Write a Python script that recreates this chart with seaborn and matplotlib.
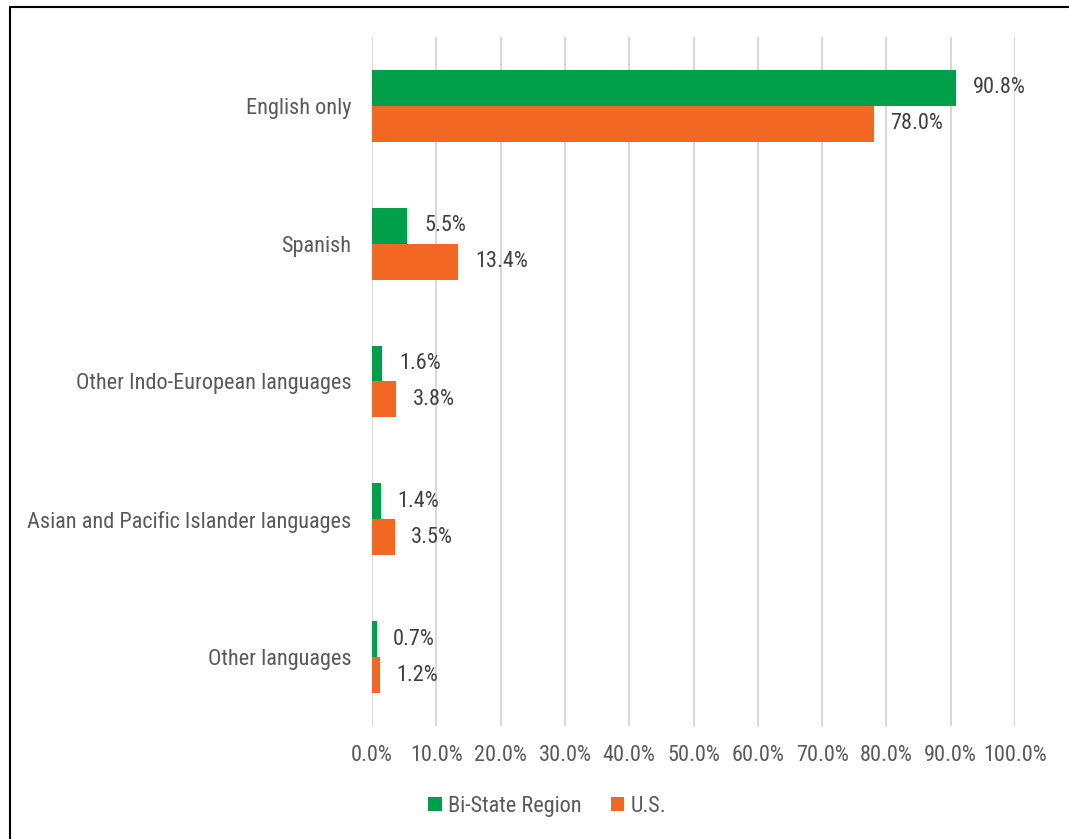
import matplotlib
matplotlib.use("Agg")
import matplotlib.pyplot as plt
from matplotlib import font_manager
from matplotlib.lines import Line2D
from matplotlib.patches import Patch
import seaborn as sns
import pandas as pd

categories = [
    "English only",
    "Spanish",
    "Other Indo-European languages",
    "Asian and Pacific Islander languages",
    "Other languages",
]
series_names = ["Bi-State Region", "U.S."]
bistate_values = [90.8, 5.5, 1.6, 1.4, 0.7]
us_values = [78.0, 13.4, 3.8, 3.5, 1.2]
x_ticks = [0, 10, 20, 30, 40, 50, 60, 70, 80, 90, 100]

colors = {"Bi-State Region": "#00A04A", "U.S.": "#F26722"}

sns.set_theme(style="white")
installed = {f.name for f in font_manager.fontManager.ttflist}
family = next((f for f in ["Roboto Condensed", "Archivo Narrow", "Liberation Sans"] if f in installed),
              "DejaVu Sans")
plt.rcParams["font.family"] = [family, "DejaVu Sans"]

FS = 16

df = pd.DataFrame({
    "Language": categories * 2,
    "Series": [series_names[0]] * len(categories) + [series_names[1]] * len(categories),
    "Percent": bistate_values + us_values,
})

fig = plt.figure(figsize=(10.69, 8.39), dpi=100)
ax = fig.add_axes([0.348, 0.1347, 0.6015, 0.8212])

sns.barplot(
    data=df, y="Language", x="Percent", hue="Series", orient="h",
    order=categories, hue_order=series_names, palette=colors,
    width=0.52, gap=0, linewidth=0, saturation=1, legend=False, ax=ax,
    errorbar=None,
)

ax.set_xlim(0, 100)
ax.set_ylim(len(categories) - 0.5, -0.5)
ax.set_xticks(x_ticks)
ax.set_xticklabels([f"{t:.1f}%" for t in x_ticks])
ax.grid(axis="x", color="#d9d9d9", linewidth=1.5)
ax.grid(axis="y", visible=False)
ax.set_axisbelow(True)
for s in ax.spines.values():
    s.set_visible(False)
ax.tick_params(axis="x", length=0, pad=14, labelsize=FS, labelcolor="#595959")
ax.tick_params(axis="y", length=0, pad=15, labelsize=FS, labelcolor="#595959")
ax.set_xlabel("")
ax.set_ylabel("")

# value labels at the end of each bar
for container in ax.containers:
    ax.bar_label(container, labels=[f"{v:.1f}%" for v in container.datavalues],
                 padding=12, fontsize=FS, color="#404040")

handles = [Patch(facecolor=colors[n], edgecolor="none") for n in series_names]
fig.legend(handles, series_names, loc="center", bbox_to_anchor=(0.512, 0.039),
           ncol=2, frameon=False, fontsize=FS, handlelength=0.6, handleheight=0.6,
           handletextpad=0.3, columnspacing=1.3, labelcolor="#595959")

# frame lines on the left and top of the figure
fig.add_artist(Line2D([0.0098, 0.0098], [0.0, 0.9915], transform=fig.transFigure,
                      color="black", linewidth=1.5))
fig.add_artist(Line2D([0.0098, 1.0], [0.9915, 0.9915], transform=fig.transFigure,
                      color="black", linewidth=1.5))

fig.savefig("out.png", dpi=100, facecolor="white")
